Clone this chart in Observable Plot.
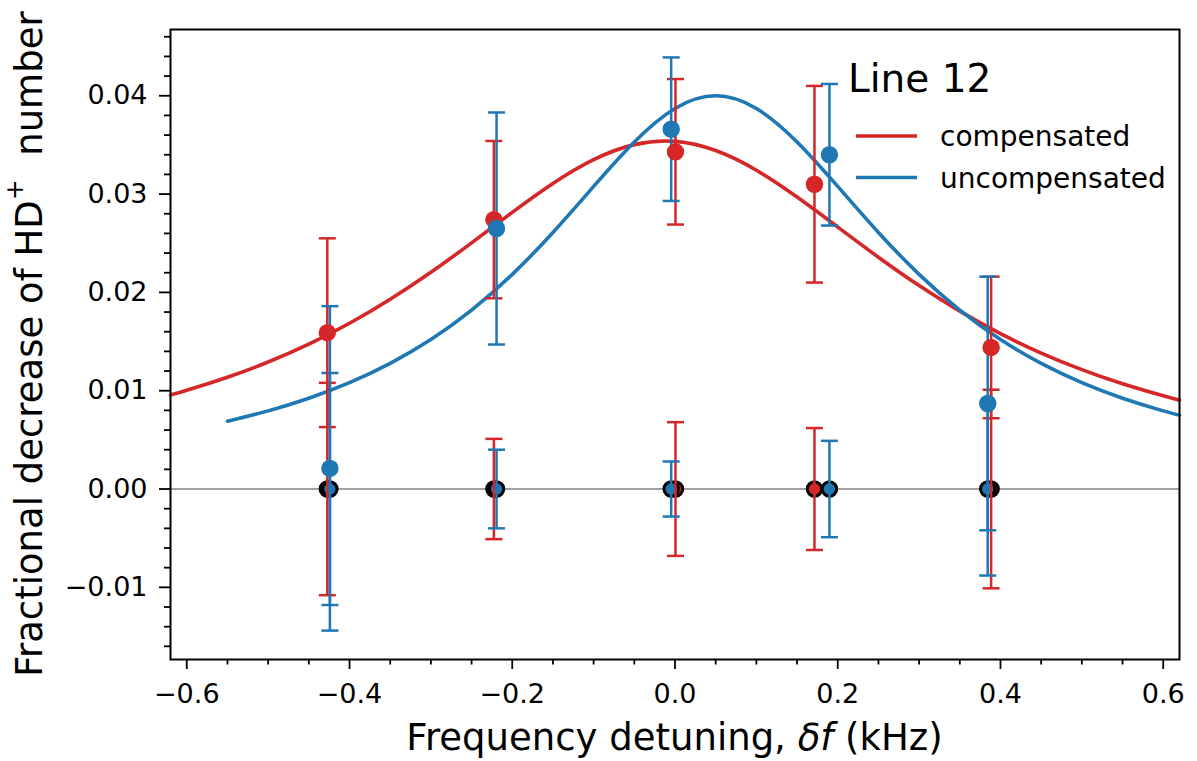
<!DOCTYPE html>
<html><head><meta charset="utf-8">
<script src="https://cdn.jsdelivr.net/npm/d3@7"></script>
<script src="https://cdn.jsdelivr.net/npm/@observablehq/plot@0.6"></script>
<style>
body{margin:0;background:#fff;}
#chart{width:1197px;height:761px;}
svg{font-family:"DejaVu Sans",sans-serif;}
</style></head><body><div id="chart"></div>
<script>
// ---- data ----
const seriesNames = ["compensated", "uncompensated"];
const seriesColors = ["#d62728", "#1f77b4"];
const legendTitle = "Line 12";
const xLabel = ["Frequency detuning, ", "δf", " (kHz)"];
const yLabel = ["Fractional decrease of HD", "+", " number"];

// compensated (red) measured points
const compX = [-0.4273, -0.2226, 0.0006, 0.1714, 0.3885];
const compY = [0.0159, 0.0274, 0.0343, 0.0310, 0.0144];
const compErr = [0.0096, 0.0080, 0.0074, 0.0100, 0.0072];
const compZeroErr = [0.0108, 0.0051, 0.0068, 0.0062, 0.0101];

// uncompensated (blue) measured points
const uncompX = [-0.4241, -0.2193, -0.0047, 0.1898, 0.3843];
const uncompY = [0.0021, 0.0265, 0.0366, 0.0340, 0.0087];
const uncompErr = [0.0165, 0.0118, 0.0073, 0.0072, 0.0129];
const uncompZeroErr = [0.0118, 0.0040, 0.0028, 0.0049, 0.0088];

// fitted curves
const compFitX = [-0.62, -0.6, -0.55, -0.5, -0.45, -0.4, -0.35, -0.3, -0.25, -0.2, -0.15, -0.1, -0.05, 0, 0.05, 0.1, 0.15, 0.2, 0.25, 0.3, 0.35, 0.4, 0.45, 0.5, 0.55, 0.6, 0.62];
const compFitY = [0.00957, 0.01004, 0.01137, 0.01292, 0.01474, 0.01686, 0.01930, 0.02204, 0.02504, 0.02814, 0.03108, 0.03350, 0.03503, 0.03536, 0.03443, 0.03243, 0.02970, 0.02665, 0.02358, 0.02069, 0.01809, 0.01580, 0.01383, 0.01214, 0.01070, 0.00948, 0.00904];
const uncompFitX = [-0.55, -0.5, -0.45, -0.4, -0.35, -0.3, -0.25, -0.2, -0.15, -0.1, -0.05, 0, 0.05, 0.1, 0.15, 0.2, 0.25, 0.3, 0.35, 0.4, 0.45, 0.5, 0.55, 0.6, 0.62];
const uncompFitY = [0.00690, 0.00795, 0.00924, 0.01082, 0.01278, 0.01520, 0.01819, 0.02183, 0.02610, 0.03078, 0.03530, 0.03871, 0.04000, 0.03871, 0.03530, 0.03078, 0.02610, 0.02183, 0.01819, 0.01520, 0.01278, 0.01082, 0.00924, 0.00795, 0.00751];

// ticks
const xTicks = [-0.6, -0.4, -0.2, 0, 0.2, 0.4, 0.6];
const xMinorTicks = [-0.55, -0.5, -0.45, -0.35, -0.3, -0.25, -0.15, -0.1, -0.05, 0.05, 0.1, 0.15, 0.25, 0.3, 0.35, 0.45, 0.5, 0.55];
const yTicks = [-0.01, 0, 0.01, 0.02, 0.03, 0.04];
const yMinorTicks = [-0.016, -0.014, -0.012, -0.008, -0.006, -0.004, -0.002, 0.002, 0.004, 0.006, 0.008, 0.012, 0.014, 0.016, 0.018, 0.022, 0.024, 0.026, 0.028, 0.032, 0.034, 0.036, 0.038, 0.042, 0.044, 0.046];
const xDomain = [-0.62, 0.62];
const yDomain = [-0.01734, 0.04674];

// ---- build tables ----
const mkRows = (xs, ys, es) => xs.map((x, i) => ({x, y: ys[i], lo: ys[i] - es[i], hi: ys[i] + es[i]}));
const mkZero = (xs, es) => xs.map((x, i) => ({x, y: 0, lo: -es[i], hi: es[i]}));
const mkFit = (xs, ys) => xs.map((x, i) => ({x, y: ys[i]}));
const series = [
  {main: mkRows(compX, compY, compErr), zero: mkZero(compX, compZeroErr), fit: mkFit(compFitX, compFitY), color: seriesColors[0]},
  {main: mkRows(uncompX, uncompY, uncompErr), zero: mkZero(uncompX, uncompZeroErr), fit: mkFit(uncompFitX, uncompFitY), color: seriesColors[1]}
];

const capSymbol = {draw(ctx, size) { const r = Math.sqrt(size / Math.PI); ctx.moveTo(-r, 0); ctx.lineTo(r, 0); }};

const bars = (rows, color) => [
  Plot.ruleX(rows, {x: "x", y1: "lo", y2: "hi", stroke: color, strokeWidth: 2.5}),
  Plot.dot(rows, {x: "x", y: "lo", r: 8.5, symbol: capSymbol, stroke: color, fill: "none", strokeWidth: 2.5}),
  Plot.dot(rows, {x: "x", y: "hi", r: 8.5, symbol: capSymbol, stroke: color, fill: "none", strokeWidth: 2.5})
];

const W = 1197, H = 761, ML = 170, MR = 18, MT = 29, MB = 102;

const chart = Plot.plot({
  width: W, height: H,
  marginLeft: ML, marginRight: MR, marginTop: MT, marginBottom: MB,
  x: {domain: xDomain},
  y: {domain: yDomain},
  style: {fontFamily: "DejaVu Sans", fontSize: "27px", color: "black", background: "white", overflow: "visible"},
  marks: [
    Plot.ruleY([0], {stroke: "#808080", strokeWidth: 1.6}),
    ...series.map(s => Plot.line(s.fit, {x: "x", y: "y", stroke: s.color, strokeWidth: 3.6, curve: "natural"})),
    ...series.map(s => Plot.dot(s.zero, {x: "x", y: "y", r: 7.2, fill: s.color, stroke: "black", strokeWidth: 3})),
    ...series.flatMap(s => bars(s.zero, s.color)),
    ...series.flatMap(s => bars(s.main, s.color)),
    ...series.map(s => Plot.dot(s.main, {x: "x", y: "y", r: 8.7, fill: s.color, stroke: "none"})),
    Plot.axisX({ticks: xMinorTicks, tickSize: 5.5, tickFormat: () => "", label: null, strokeWidth: 1.8}),
    Plot.axisX({ticks: xTicks, tickSize: 10, tickPadding: 14, tickFormat: d3.format(".1f"), fontSize: 27, label: null, strokeWidth: 1.8}),
    Plot.axisY({ticks: yMinorTicks, tickSize: 6, tickFormat: () => "", label: null, strokeWidth: 1.8}),
    Plot.axisY({ticks: yTicks, tickSize: 11, tickPadding: 12, tickFormat: d3.format(".2f"), fontSize: 27, label: null, strokeWidth: 1.8}),
    Plot.frame({stroke: "black", strokeWidth: 2})
  ]
});
document.getElementById("chart").appendChild(chart);

// ---- axis labels & legend as real text ----
const svg = d3.select(chart);
const cx = (ML + (W - MR)) / 2, cy = (MT + (H - MB)) / 2;

const xl = svg.append("text").attr("x", cx).attr("y", 750).attr("text-anchor", "middle")
  .attr("font-size", 37).style("white-space", "pre").attr("fill", "black");
xl.append("tspan").text(xLabel[0]);
xl.append("tspan").attr("font-style", "italic").text(xLabel[1]);
xl.append("tspan").text(xLabel[2]);

const yl = svg.append("text").attr("transform", `translate(42,${cy}) rotate(-90)`).attr("text-anchor", "middle")
  .attr("font-size", 37).style("white-space", "pre").attr("fill", "black");
yl.append("tspan").text(yLabel[0]);
yl.append("tspan").attr("font-size", 25).attr("dy", -19).text(yLabel[1]);
yl.append("tspan").attr("dy", 19).text(" " + yLabel[2]);

const lg = svg.append("g").attr("text-anchor", "start");
lg.append("text").attr("x", 848).attr("y", 92).attr("font-size", 39).attr("text-anchor", "start").attr("fill", "black").text(legendTitle);
seriesNames.forEach((name, i) => {
  const y = 136 + i * 41.5;
  lg.append("line").attr("x1", 856).attr("x2", 917).attr("y1", y).attr("y2", y)
    .attr("stroke", seriesColors[i]).attr("stroke-width", 3.6);
  lg.append("text").attr("x", 940).attr("y", y + 10).attr("font-size", 28).attr("text-anchor", "start").attr("fill", "black").text(name);
});
</script></body></html>
